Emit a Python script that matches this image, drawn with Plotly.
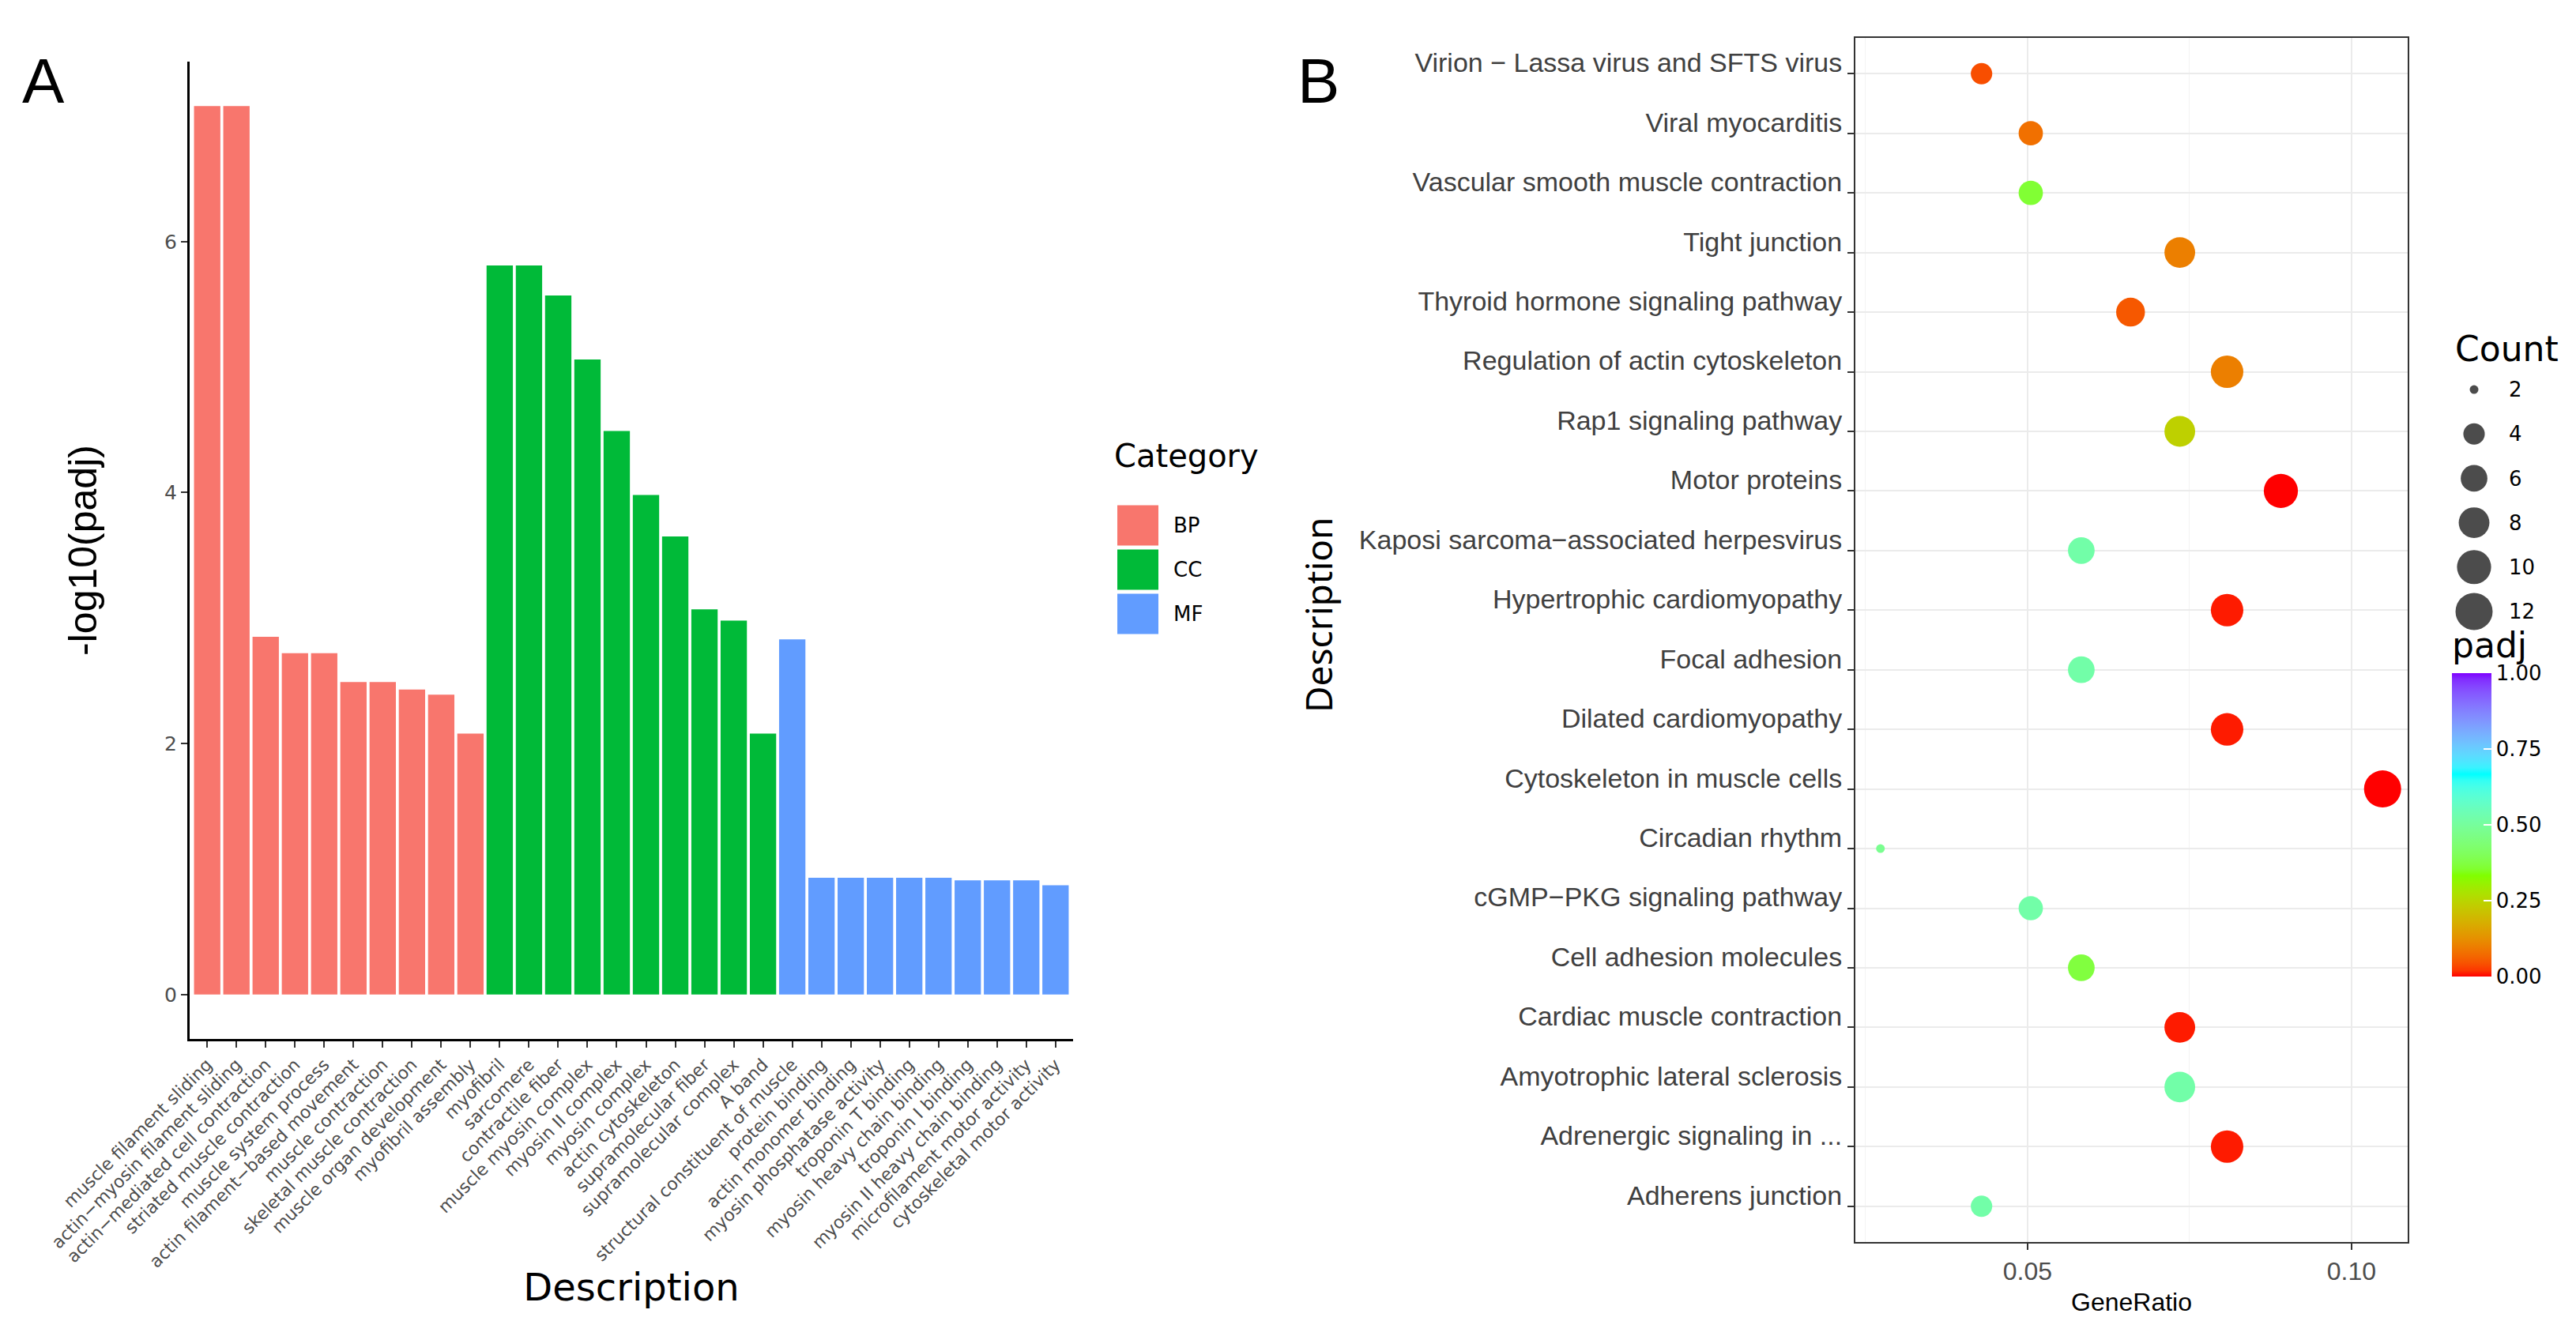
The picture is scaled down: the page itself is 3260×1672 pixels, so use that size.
import math
import plotly.graph_objects as go

# ---------------- Panel A data (GO enrichment, -log10(padj)) ----------------
bp_terms = ["muscle filament sliding", "actin−myosin filament sliding", "actin−mediated cell contraction",
            "striated muscle contraction", "muscle system process", "actin filament−based movement",
            "muscle contraction", "skeletal muscle contraction", "muscle organ development",
            "myofibril assembly"]
bp_values = [7.08, 7.08, 2.85, 2.72, 2.72, 2.49, 2.49, 2.43, 2.39, 2.08]

cc_terms = ["myofibril", "sarcomere", "contractile fiber", "muscle myosin complex", "myosin II complex",
            "myosin complex", "actin cytoskeleton", "supramolecular fiber", "supramolecular complex",
            "A band"]
cc_values = [5.81, 5.81, 5.57, 5.06, 4.49, 3.98, 3.65, 3.07, 2.98, 2.08]

mf_terms = ["structural constituent of muscle", "protein binding", "actin monomer binding",
            "myosin phosphatase activity", "troponin T binding", "myosin heavy chain binding",
            "troponin I binding", "myosin II heavy chain binding", "microfilament motor activity",
            "cytoskeletal motor activity"]
mf_values = [2.83, 0.93, 0.93, 0.93, 0.93, 0.93, 0.91, 0.91, 0.91, 0.87]

category_names = ["BP", "CC", "MF"]
category_colors = ["#F8766D", "#00BA38", "#619CFF"]
a_yticks = [0, 2, 4, 6]

# ---------------- Panel B data (KEGG enrichment dot plot), top to bottom ----------------
kegg_terms = ["Virion − Lassa virus and SFTS virus", "Viral myocarditis",
              "Vascular smooth muscle contraction", "Tight junction",
              "Thyroid hormone signaling pathway", "Regulation of actin cytoskeleton",
              "Rap1 signaling pathway", "Motor proteins", "Kaposi sarcoma−associated herpesvirus",
              "Hypertrophic cardiomyopathy", "Focal adhesion", "Dilated cardiomyopathy",
              "Cytoskeleton in muscle cells", "Circadian rhythm", "cGMP−PKG signaling pathway",
              "Cell adhesion molecules", "Cardiac muscle contraction",
              "Amyotrophic lateral sclerosis", "Adrenergic signaling in ...", "Adherens junction"]
kegg_gene_ratio = [0.0429, 0.0505, 0.0505, 0.0735, 0.0659, 0.0808, 0.0735, 0.0891, 0.0583, 0.0808,
                   0.0583, 0.0808, 0.1048, 0.0273, 0.0505, 0.0583, 0.0735, 0.0735, 0.0808, 0.0429]
kegg_count = [4, 5, 5, 8, 7, 9, 8, 10, 6, 9, 6, 9, 12, 2, 5, 6, 8, 8, 9, 4]
kegg_padj = [0.04, 0.08, 0.36, 0.10, 0.05, 0.10, 0.24, 0.00, 0.52, 0.01,
             0.52, 0.01, 0.00, 0.48, 0.52, 0.37, 0.01, 0.52, 0.01, 0.52]
count_breaks = [2, 4, 6, 8, 10, 12]
padj_ticks = [0.0, 0.25, 0.5, 0.75, 1.0]
gene_ratio_ticks = [0.05, 0.10]

# ---------------- helpers ----------------
W, H = 3260, 1672


def px(x):
    return x / W


def py(y):
    return 1 - y / H


def srgb_to_lab(hexc):
    r, g, b = [int(hexc[i:i + 2], 16) / 255 for i in (1, 3, 5)]
    lin = [c / 12.92 if c <= 0.04045 else ((c + 0.055) / 1.055) ** 2.4 for c in (r, g, b)]
    X = 0.4124 * lin[0] + 0.3576 * lin[1] + 0.1805 * lin[2]
    Y = 0.2126 * lin[0] + 0.7152 * lin[1] + 0.0722 * lin[2]
    Z = 0.0193 * lin[0] + 0.1192 * lin[1] + 0.9505 * lin[2]

    def f(t):
        return t ** (1 / 3) if t > (6 / 29) ** 3 else t / (3 * (6 / 29) ** 2) + 4 / 29
    fx, fy, fz = f(X / 0.95047), f(Y / 1.0), f(Z / 1.08883)
    return 116 * fy - 16, 500 * (fx - fy), 200 * (fy - fz)


def lab_to_hex(L, a, b):
    fy = (L + 16) / 116
    fx = fy + a / 500
    fz = fy - b / 200

    def finv(t):
        return t ** 3 if t > 6 / 29 else 3 * (6 / 29) ** 2 * (t - 4 / 29)
    X, Y, Z = 0.95047 * finv(fx), finv(fy), 1.08883 * finv(fz)
    rl = 3.2406 * X - 1.5372 * Y - 0.4986 * Z
    gl = -0.9689 * X + 1.8758 * Y + 0.0415 * Z
    bl = 0.0557 * X - 0.2040 * Y + 1.0570 * Z
    out = []
    for c in (rl, gl, bl):
        c = max(0.0, min(1.0, c))
        c = 12.92 * c if c <= 0.0031308 else 1.055 * c ** (1 / 2.4) - 0.055
        out.append(int(round(max(0, min(1, c)) * 255)))
    return "#%02X%02X%02X" % tuple(out)


# rainbow(4) interpolated in CIELAB (like ggplot2 gradientn)
ramp = ["#FF0000", "#80FF00", "#00FFFF", "#8000FF"]
ramp_lab = [srgb_to_lab(c) for c in ramp]
colorscale = []
nstops = 48
for i in range(nstops + 1):
    t = i / nstops
    pos = t * (len(ramp) - 1)
    k = min(int(pos), len(ramp) - 2)
    f = pos - k
    l0, l1 = ramp_lab[k], ramp_lab[k + 1]
    colorscale.append([t, lab_to_hex(*[l0[j] + (l1[j] - l0[j]) * f for j in range(3)])])

# ggplot-like size scale (area palette)
cmin, cmax = min(kegg_count), max(kegg_count)
d_min, d_max = 11, 47


def size_px(c):
    return d_min + math.sqrt((c - cmin) / (cmax - cmin)) * (d_max - d_min)


fig = go.Figure()

# ---------------- Panel A bars ----------------
all_terms = bp_terms + cc_terms + mf_terms
for name, color, terms, vals in zip(category_names, category_colors,
                                    [bp_terms, cc_terms, mf_terms],
                                    [bp_values, cc_values, mf_values]):
    fig.add_trace(go.Bar(x=terms, y=vals, name=name, marker=dict(color=color, line=dict(width=0)),
                         width=0.9, xaxis="x", yaxis="y", showlegend=False))

a_max = max(bp_values + cc_values + mf_values)

# Category legend (keys drawn as bars in a small helper axis)
fig.add_trace(go.Bar(y=category_names, x=[1, 1, 1], orientation="h",
                     marker=dict(color=category_colors, line=dict(width=0)), width=0.91,
                     xaxis="x4", yaxis="y4", showlegend=False, hoverinfo="skip"))

# ---------------- Panel B dots ----------------
fig.add_trace(go.Scatter(
    x=kegg_gene_ratio, y=kegg_terms, mode="markers", xaxis="x2", yaxis="y2", showlegend=False,
    marker=dict(size=[size_px(c) for c in kegg_count], color=kegg_padj, cmin=0, cmax=1,
                colorscale=colorscale, line=dict(width=0), opacity=1,
                colorbar=dict(
                    title=dict(text="padj", side="top", font=dict(family="DejaVu Sans", size=44, color="black")),
                    x=px(3095), xanchor="left", y=py(1228), yanchor="bottom",
                    len=440, lenmode="pixels", thickness=50, thicknessmode="pixels",
                    tickvals=padj_ticks, tickformat=".2f", ticks="inside", tickcolor="white",
                    ticklen=10, tickwidth=2, outlinewidth=0, xpad=0, ypad=0,
                    tickfont=dict(family="DejaVu Sans", size=26, color="black"))),
    customdata=kegg_count,
    hovertemplate="%{y}<br>GeneRatio=%{x}<br>Count=%{customdata}<br>padj=%{marker.color}<extra></extra>"))

# Count size legend (helper axis)
fig.add_trace(go.Scatter(x=[0] * len(count_breaks), y=count_breaks, mode="markers",
                         marker=dict(size=[size_px(c) for c in count_breaks], color="#000000",
                                     line=dict(width=0)),
                         xaxis="x3", yaxis="y3", showlegend=False, hoverinfo="skip"))

gr_span = max(kegg_gene_ratio) - min(kegg_gene_ratio)
b_xrange = [min(kegg_gene_ratio) - 0.05 * gr_span, max(kegg_gene_ratio) + 0.05 * gr_span]
n_terms = len(kegg_terms)

grey30 = "#4D4D4D"
fig.update_layout(
    width=W, height=H, margin=dict(l=0, r=0, t=0, b=0),
    paper_bgcolor="white", plot_bgcolor="white", barmode="overlay", bargap=0.1,
    font=dict(family="DejaVu Sans", color="black"),
    xaxis=dict(domain=[px(232), px(1350)], anchor="y", type="category", categoryorder="array",
               categoryarray=all_terms, range=[-0.6, len(all_terms) - 0.4], tickangle=-45,
               tickfont=dict(family="DejaVu Sans", size=22, color=grey30),
               ticks="outside", ticklen=8, tickwidth=2, tickcolor="#333333",
               showline=True, linecolor="black", linewidth=3, showgrid=False, zeroline=False,
               automargin=False,
               title=dict(text="Description", font=dict(family="DejaVu Sans", size=48, color="black"),
                          standoff=4)),
    yaxis=dict(domain=[py(1307), py(70)], anchor="x", range=[-0.05 * a_max, 1.05 * a_max],
               tickvals=a_yticks, tickfont=dict(family="DejaVu Sans", size=25, color=grey30),
               ticks="outside", ticklen=8, tickwidth=2, tickcolor="#333333",
               showline=True, linecolor="black", linewidth=3, showgrid=False, zeroline=False,
               automargin=False,
               title=dict(text="-log10(padj)", font=dict(family="Liberation Sans", size=50, color="black"),
                          standoff=70)),
    xaxis2=dict(domain=[px(2340), px(3039)], anchor="y2", range=b_xrange, tickvals=gene_ratio_ticks,
                tickformat=".2f", tickfont=dict(family="Liberation Sans", size=32, color=grey30),
                ticks="outside", ticklen=8, tickwidth=2, tickcolor="#333333",
                showline=True, mirror=True, linecolor="#333333", linewidth=2,
                showgrid=True, gridcolor="#EBEBEB", gridwidth=2, zeroline=False,
                minor=dict(tick0=0.025, dtick=0.05, showgrid=True, gridcolor="#F3F3F3", gridwidth=1),
                automargin=False,
                title=dict(text="GeneRatio", font=dict(family="Liberation Sans", size=32, color="black"),
                           standoff=10)),
    yaxis2=dict(domain=[py(1564), py(40)], anchor="x2", type="category", categoryorder="array",
                categoryarray=kegg_terms[::-1], range=[-0.6, n_terms - 0.4],
                tickfont=dict(family="Liberation Sans", size=34, color="#404040"),
                ticks="outside", ticklen=8, tickwidth=2, tickcolor="#333333", ticklabelshift=-14,
                showline=True, mirror=True, linecolor="#333333", linewidth=2,
                showgrid=True, gridcolor="#EBEBEB", gridwidth=2, zeroline=False, automargin=False),
    xaxis3=dict(domain=[px(3098), px(3148)], anchor="y3", range=[-1, 1], visible=False),
    yaxis3=dict(domain=[py(794), py(457)], anchor="x3", range=[13, 1], side="right",
                tickvals=count_breaks, showline=False, showgrid=False, zeroline=False, ticks="",
                ticklabelstandoff=18, automargin=False,
                tickfont=dict(family="DejaVu Sans", size=26, color="black")),
    xaxis4=dict(domain=[px(1406), px(1458)], anchor="y4", range=[0, 1], visible=False),
    yaxis4=dict(domain=[py(797), py(629)], anchor="x4", type="category", categoryorder="array",
                categoryarray=category_names[::-1], range=[-0.5, 2.5], side="right",
                showline=False, showgrid=False, zeroline=False, ticks="", ticklabelstandoff=18,
                automargin=False, tickfont=dict(family="DejaVu Sans", size=26, color="black")),
    annotations=[
        dict(text="A", x=px(18), y=py(48), xref="paper", yref="paper", xanchor="left", yanchor="top",
             showarrow=False, font=dict(family="Liberation Sans", size=80, color="black")),
        dict(text="B", x=px(1632), y=py(48), xref="paper", yref="paper", xanchor="left", yanchor="top",
             showarrow=False, font=dict(family="Liberation Sans", size=80, color="black")),
        dict(text="Category", x=px(1400), y=py(569), xref="paper", yref="paper", xanchor="left",
             yanchor="middle", showarrow=False, font=dict(family="DejaVu Sans", size=40, color="black")),
        dict(text="Count", x=px(3097), y=py(433), xref="paper", yref="paper", xanchor="left",
             yanchor="middle", showarrow=False, font=dict(family="DejaVu Sans", size=44, color="black")),
        dict(text="Description", x=px(1660), y=py(770), xref="paper", yref="paper", xanchor="center",
             yanchor="middle", textangle=-90, showarrow=False,
             font=dict(family="Noto Sans", size=46, color="black")),
    ],
)

fig.write_html("out.html")
